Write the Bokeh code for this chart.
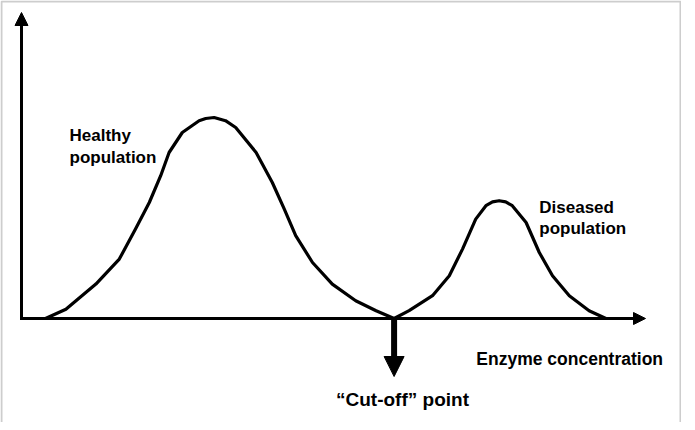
from bokeh.plotting import figure
from bokeh.models import Range1d, Arrow, NormalHead, Label, BoxAnnotation
from bokeh.embed import file_html
from bokeh.resources import INLINE

# Healthy population distribution (enzyme concentration vs. frequency)
healthy_x = [4.0, 7.4, 12.4, 16.3, 19.0, 21.3, 23.2, 24.6, 26.8, 29.6, 30.7, 32.1, 34.0,
             35.7, 39.1, 41.8, 43.8, 45.7, 48.5, 51.8, 55.7, 59.1, 62.1]
healthy_y = [0.0, 4.6, 17.2, 29.7, 44.7, 58.0, 71.4, 83.0, 93.0, 98.9, 100.0, 100.5, 98.9,
             95.5, 83.0, 68.0, 54.7, 41.4, 28.0, 17.2, 8.9, 3.9, 0.0]

# Diseased population distribution
diseased_x = [62.1, 64.6, 68.5, 71.3, 73.5, 75.7, 77.4, 78.5, 79.6, 80.7, 81.8, 84.1,
              86.3, 88.5, 91.3, 94.6, 97.4]
diseased_y = [0.0, 3.9, 11.4, 21.4, 34.7, 49.7, 56.4, 58.3, 58.9, 58.3, 56.4, 48.0,
              33.0, 21.4, 11.4, 3.9, 0.0]

cutoff_x = 62.1
x_axis_end = 104.0
y_axis_end = 153.0

label_healthy = ["Healthy", "population"]
label_diseased = ["Diseased", "population"]
label_x = "Enzyme concentration"
label_cutoff = "\u201cCut-off\u201d point"

FONT = "Liberation Sans"

p = figure(width=681, height=422, x_range=Range1d(-3.5, 110), y_range=Range1d(-52, 159),
           output_backend="svg", toolbar_location=None, x_axis_type=None, y_axis_type=None,
           min_border=0)
p.outline_line_color = None
p.background_fill_color = "white"
p.border_fill_color = "white"

# frame (top, left, right)
p.add_layout(BoxAnnotation(left=-3.333, right=109.83, top=158.5, bottom=-60,
                           fill_alpha=0, line_color="#5a5a5a", line_width=2))

# axes as arrows
p.add_layout(Arrow(x_start=0, y_start=-0.75, x_end=0, y_end=y_axis_end, line_width=3,
                   line_color="black",
                   end=NormalHead(size=13, fill_color="black", line_color="black", line_width=1)))
p.add_layout(Arrow(x_start=-0.25, y_start=0, x_end=x_axis_end, y_end=0, line_width=3,
                   line_color="black",
                   end=NormalHead(size=12, fill_color="black", line_color="black", line_width=1)))

# curves
p.line(healthy_x, healthy_y, line_width=3.2, line_color="black", line_join="round")
p.line(diseased_x, diseased_y, line_width=3.2, line_color="black", line_join="round")

# cut-off arrow
p.add_layout(Arrow(x_start=cutoff_x, y_start=0, x_end=cutoff_x, y_end=-29, line_width=6,
                   line_color="black",
                   end=NormalHead(size=20, fill_color="black", line_color="black", line_width=1)))

def lab(x, y, t, size="17px", align="left"):
    p.add_layout(Label(x=x, y=y, text=t, text_font=FONT, text_font_style="bold",
                       text_font_size=size, text_color="black", text_align=align,
                       text_baseline="alphabetic"))

lab(8.0, 91.5, label_healthy[0])
lab(8.0, 80.5, label_healthy[1])
lab(86.3, 55.5, label_diseased[0])
lab(86.3, 45.0, label_diseased[1])
lab(75.8, -20.0, label_x, size="17.5px")
lab(63.5, -40.5, label_cutoff, size="19px", align="center")

open("out.html", "w").write(file_html(p, INLINE))
